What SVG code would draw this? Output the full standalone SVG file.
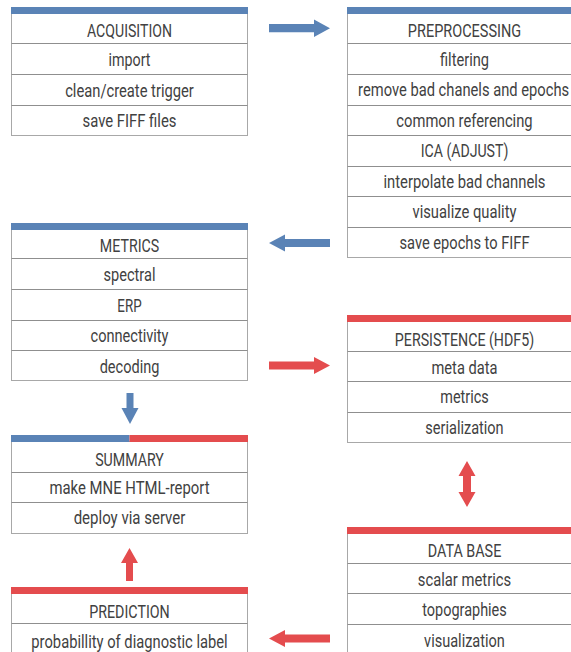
<svg xmlns="http://www.w3.org/2000/svg" width="571" height="652" viewBox="0 0 571 652">
<defs>
<style>
.bg{fill:#ffffff}
.box{fill:#ffffff;stroke:#a8a8a8;stroke-width:1}
.sep{stroke:#8f8f8f;stroke-width:1}
.blue{fill:#5a83b6}
.red{fill:#e44c4e}
text{font-family:"Roboto","Liberation Sans",sans-serif;font-size:17.5px;fill:#414141;text-anchor:middle}
</style>
</defs>
<rect class="bg" x="0" y="0" width="571" height="652"/>

<g id="acquisition">
<rect class="box" x="11.5" y="13.5" width="236" height="122"/>
<rect class="blue" x="11" y="7" width="237" height="7"/>
<line class="sep" x1="11.5" x2="247.5" y1="43.5" y2="43.5"/>
<line class="sep" x1="11.5" x2="247.5" y1="74.5" y2="74.5"/>
<line class="sep" x1="11.5" x2="247.5" y1="105.5" y2="105.5"/>
<text x="129.5" y="37.3" textLength="85" lengthAdjust="spacingAndGlyphs">ACQUISITION</text>
<text x="129.5" y="65.8" textLength="42" lengthAdjust="spacingAndGlyphs">import</text>
<text x="129.5" y="96.5" textLength="128.7" lengthAdjust="spacingAndGlyphs">clean/create trigger</text>
<text x="129.5" y="126.8" textLength="94" lengthAdjust="spacingAndGlyphs">save FIFF files</text>
</g>

<g id="preprocessing">
<rect class="box" x="347.5" y="13.5" width="240" height="244"/>
<rect class="blue" x="347" y="7" width="240" height="7"/>
<line class="sep" x1="347.5" x2="587" y1="43.5" y2="43.5"/>
<line class="sep" x1="347.5" x2="587" y1="74.5" y2="74.5"/>
<line class="sep" x1="347.5" x2="587" y1="105.5" y2="105.5"/>
<line class="sep" x1="347.5" x2="587" y1="135.5" y2="135.5"/>
<line class="sep" x1="347.5" x2="587" y1="166.5" y2="166.5"/>
<line class="sep" x1="347.5" x2="587" y1="196.5" y2="196.5"/>
<line class="sep" x1="347.5" x2="587" y1="227.5" y2="227.5"/>
<text x="464.5" y="37.3" textLength="113.3" lengthAdjust="spacingAndGlyphs">PREPROCESSING</text>
<text x="464.5" y="65.5" textLength="49" lengthAdjust="spacingAndGlyphs">filtering</text>
<text x="463.6" y="96.2" textLength="211" lengthAdjust="spacingAndGlyphs">remove bad chanels and epochs</text>
<text x="464.5" y="126.8" textLength="136.3" lengthAdjust="spacingAndGlyphs">common referencing</text>
<text x="464.5" y="157.3" textLength="87.7" lengthAdjust="spacingAndGlyphs">ICA (ADJUST)</text>
<text x="464.5" y="187.8" textLength="162" lengthAdjust="spacingAndGlyphs">interpolate bad channels</text>
<text x="464.5" y="218.3" textLength="104" lengthAdjust="spacingAndGlyphs">visualize quality</text>
<text x="464.5" y="248.8" textLength="130" lengthAdjust="spacingAndGlyphs">save epochs to FIFF</text>
</g>

<g id="metrics">
<rect class="box" x="11.5" y="229.5" width="236" height="151"/>
<rect class="blue" x="11" y="223" width="237" height="7"/>
<line class="sep" x1="11.5" x2="247.5" y1="258.5" y2="258.5"/>
<line class="sep" x1="11.5" x2="247.5" y1="289.5" y2="289.5"/>
<line class="sep" x1="11.5" x2="247.5" y1="320.5" y2="320.5"/>
<line class="sep" x1="11.5" x2="247.5" y1="350.5" y2="350.5"/>
<text x="129.5" y="252.3" textLength="59.3" lengthAdjust="spacingAndGlyphs">METRICS</text>
<text x="129.5" y="281.3" textLength="52" lengthAdjust="spacingAndGlyphs">spectral</text>
<text x="129.5" y="311.5" textLength="24.3" lengthAdjust="spacingAndGlyphs">ERP</text>
<text x="129.5" y="342" textLength="78" lengthAdjust="spacingAndGlyphs">connectivity</text>
<text x="129.5" y="372.5" textLength="59.7" lengthAdjust="spacingAndGlyphs">decoding</text>
</g>

<g id="persistence">
<rect class="box" x="347.5" y="321.5" width="240" height="121"/>
<rect class="red" x="347" y="315" width="240" height="7"/>
<line class="sep" x1="347.5" x2="587" y1="351.5" y2="351.5"/>
<line class="sep" x1="347.5" x2="587" y1="381.5" y2="381.5"/>
<line class="sep" x1="347.5" x2="587" y1="412.5" y2="412.5"/>
<text x="464.5" y="345.7" textLength="139.3" lengthAdjust="spacingAndGlyphs">PERSISTENCE (HDF5)</text>
<text x="464.5" y="374" textLength="66" lengthAdjust="spacingAndGlyphs">meta data</text>
<text x="464.5" y="402.5" textLength="48.4" lengthAdjust="spacingAndGlyphs">metrics</text>
<text x="464.5" y="433.5" textLength="78.3" lengthAdjust="spacingAndGlyphs">serialization</text>
</g>

<g id="summary">
<rect class="box" x="11.5" y="441.5" width="236" height="92"/>
<rect class="blue" x="11" y="435" width="118.5" height="7"/>
<rect class="red" x="129.5" y="435" width="118.5" height="7"/>
<line class="sep" x1="11.5" x2="247.5" y1="472.5" y2="472.5"/>
<line class="sep" x1="11.5" x2="247.5" y1="502.5" y2="502.5"/>
<text x="129.5" y="466" textLength="68.7" lengthAdjust="spacingAndGlyphs">SUMMARY</text>
<text x="129.5" y="494" textLength="160" lengthAdjust="spacingAndGlyphs">make MNE HTML-report</text>
<text x="129.5" y="524.3" textLength="111.7" lengthAdjust="spacingAndGlyphs">deploy via server</text>
</g>

<g id="database">
<rect class="box" x="347.5" y="533.5" width="240" height="130"/>
<rect class="red" x="347" y="527" width="240" height="7"/>
<line class="sep" x1="347.5" x2="587" y1="563.5" y2="563.5"/>
<line class="sep" x1="347.5" x2="587" y1="593.5" y2="593.5"/>
<line class="sep" x1="347.5" x2="587" y1="624.5" y2="624.5"/>
<text x="464.5" y="557.3" textLength="73.6" lengthAdjust="spacingAndGlyphs">DATA BASE</text>
<text x="464.5" y="586.2" textLength="93.3" lengthAdjust="spacingAndGlyphs">scalar metrics</text>
<text x="464.5" y="615.5" textLength="84.5" lengthAdjust="spacingAndGlyphs">topographies</text>
<text x="464.5" y="646.5" textLength="80.8" lengthAdjust="spacingAndGlyphs">visualization</text>
</g>

<g id="prediction">
<rect class="box" x="11.5" y="593.5" width="236" height="70"/>
<rect class="red" x="11" y="587" width="237" height="7"/>
<line class="sep" x1="11.5" x2="247.5" y1="623.5" y2="623.5"/>
<text x="129.5" y="618.3" textLength="80.5" lengthAdjust="spacingAndGlyphs">PREDICTION</text>
<text x="129.5" y="648.3" textLength="196.3" lengthAdjust="spacingAndGlyphs">probabillity of diagnostic label</text>
</g>

<g id="connectors">
<polygon class="blue" points="269,24 314,24 314,19.5 330,28.2 314,37 314,32.3 269,32.3"/>
<polygon class="blue" points="330,239 285,239 285,234.5 269,243 285,251.5 285,247 330,247"/>
<polygon class="red" points="269,361.5 314,361.5 314,357 330,365.5 314,374 314,369.5 269,369.5"/>
<polygon class="blue" points="126.5,393 133.5,393 133.5,408 138.5,408 130,424 121.5,408 126.5,408"/>
<polygon class="red" points="129.5,548 138,563 133,563 133,581 126,581 126,563 121,563"/>
<polygon class="red" points="467,461 475.5,476 471,476 471,492 475.5,492 467,507 458.5,492 463,492 463,476 458.5,476"/>
<polygon class="red" points="330,634.5 285,634.5 285,630 269,638.5 285,647 285,642.5 330,642.5"/>
</g>
</svg>
